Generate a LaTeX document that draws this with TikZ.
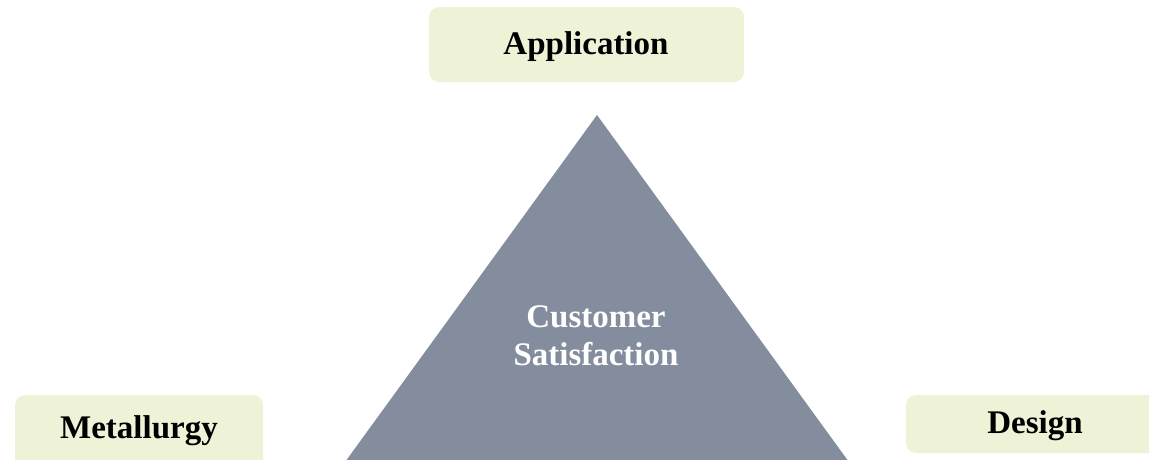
\documentclass[tikz,border=0pt]{standalone}
\usepackage{fontspec}
\setmainfont{Liberation Serif}
\definecolor{boxfill}{HTML}{EEF2D6}
\definecolor{trifill}{HTML}{838D9D}
\begin{document}
\begin{tikzpicture}[x=1pt,y=-1pt,
  labelbox/.style={fill=boxfill,draw=none,rounded corners=10pt,inner sep=0pt},
  labeltext/.style={font=\fontsize{33}{38}\selectfont\bfseries,text=black},
  tritext/.style={font=\fontsize{33}{38}\selectfont\bfseries,text=white,align=center}]
\useasboundingbox (0,0) rectangle (1149,459);
\clip (0,0) rectangle (1149,459);
% triangle
\fill[trifill] (597,115) -- (862,480) -- (332,480) -- cycle;
\node[tritext] (cs) at (596,336) {Customer\\Satisfaction};
% boxes
\node[labelbox,minimum width=315pt,minimum height=75pt] (appbox) at (586.5,44.5) {};
\node[labeltext] (app) at (586,47) {Application};
\node[labelbox,minimum width=248pt,minimum height=90pt] (metbox) at (139,440) {};
\node[labeltext] (met) at (139,431) {Metallurgy};
\node[labelbox,minimum width=280pt,minimum height=58pt] (desbox) at (1046,424) {};
\node[labeltext] (des) at (1035,426) {Design};
\end{tikzpicture}
\end{document}
